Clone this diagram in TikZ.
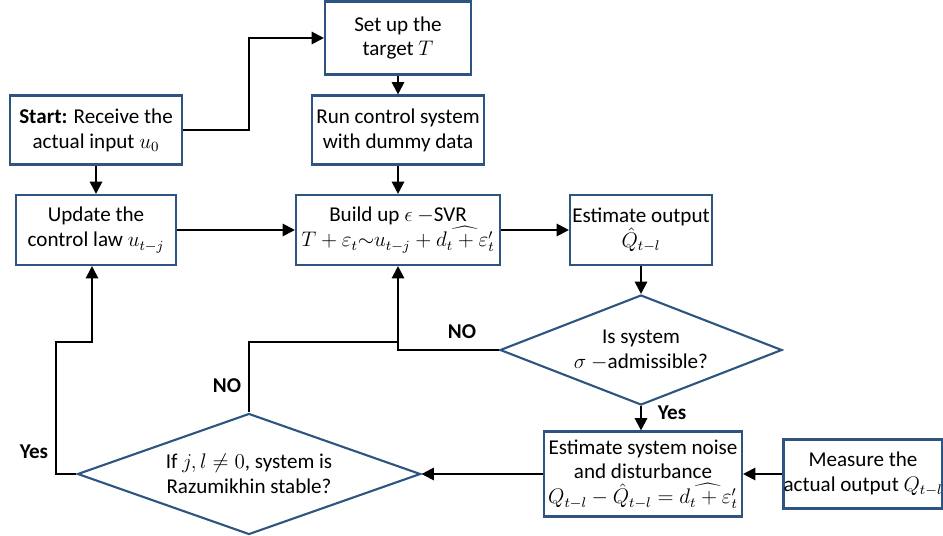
\documentclass[tikz,border=0pt]{standalone}
\usepackage{fontspec}
\setmainfont{Carlito}
\usetikzlibrary{positioning,shapes.geometric,arrows.meta}
\definecolor{boxblue}{RGB}{46,84,130}
\begin{document}
\begin{tikzpicture}[node distance={20mm}, font=\fontsize{12}{14.2}\selectfont,
    box/.style = {draw=boxblue, line width=1.2pt, align=center, inner sep=0pt},
    decision/.style = {draw=boxblue, line width=1.2pt, diamond, align=center, inner sep=0pt},
    arr/.style = {-{Triangle[length=7pt,width=7pt]}, line width=1.2pt},
    lbl/.style = {font=\fontsize{12}{14.2}\selectfont\bfseries}]
			\useasboundingbox (0,0) rectangle (18.86,10.7);
			\node[box, minimum width=3.44cm, minimum height=1.38cm] (start) at (1.92,8.10) {\textbf{Start:} Receive the\\actual input $u_0$};
			\node[box, minimum width=3.2cm, minimum height=1.4cm] (update) [below of=start] {Update the\\control law $u_{t-j}$};
			\node[box, minimum width=3.44cm, minimum height=1.38cm] (run) at (7.96,8.10) {Run control system\\with dummy data};
			\node[box, minimum width=2.92cm, minimum height=1.46cm] (setup) [above of=run, node distance=18.4mm] {Set up the\\target $T$};
			\node[box, minimum width=4.08cm, minimum height=1.4cm] (build) [below of=run] {Build up $\epsilon$ $-$SVR\\$T+\varepsilon_t{\sim}u_{t-j}+\widehat{d_t+\varepsilon'_t}$};
			\node[box, minimum width=2.84cm, minimum height=1.4cm] (estout) [right of=build, node distance=48.6mm] {Estimate output\\$\hat{Q}_{t-l}$};
			\node[decision, aspect=2.56, minimum width=5.64cm, minimum height=2.2cm] (adm) [below of=estout, node distance=24mm] {Is system\\$\sigma$ $-$admissible?};
			\node[box, minimum width=3.96cm, minimum height=1.7cm] (noise) at (12.86,1.22) {Estimate system noise\\and disturbance\\$Q_{t-l}-\hat{Q}_{t-l}=\widehat{d_t+\varepsilon'_t}$};
			\node[box, minimum width=3.16cm, minimum height=1.38cm] (measure) at (17.26,1.22) {Measure the\\actual output $Q_{t-l}$};
			\node[decision, aspect=2.83, minimum width=6.86cm, minimum height=2.42cm] (rz) at (4.98,1.22) {If $j,l\neq0$, system is\\Razumikhin stable?};
			\coordinate (nojoin) at (7.96,3.86);
			\coordinate (yesbend) at (1.12,3.86);
			\coordinate (yesup) at (1.84,3.86);
			\node[lbl] (no1) at (9.24,4.06) {NO};
			\node[lbl] (no2) at (4.54,2.98) {NO};
			\node[lbl] (yes1) at (13.44,2.44) {Yes};
			\node[lbl] (yes2) at (0.68,1.66) {Yes};
			\draw[arr] (start.east) -- ++(1.32,0) |- (setup.west);
			\draw[arr] (setup) -- (run);
			\draw[arr] (run) -- (build);
			\draw[arr] (start) -- (update);
			\draw[arr] (update) -- (build);
			\draw[arr] (build) -- (estout);
			\draw[arr] (estout) -- (adm);
			\draw[arr] (adm.west) -| (build.south);
			\draw[line width=1.2pt] (rz.north) |- (nojoin);
			\draw[arr] (adm.south) -- (adm.south |- noise.north);
			\draw[arr] (measure) -- (noise);
			\draw[arr] (noise) -- (rz);
			\draw[arr] (rz.west) -| (yesbend) -- (yesup) -- (yesup |- update.south);
		\end{tikzpicture}
\end{document}
